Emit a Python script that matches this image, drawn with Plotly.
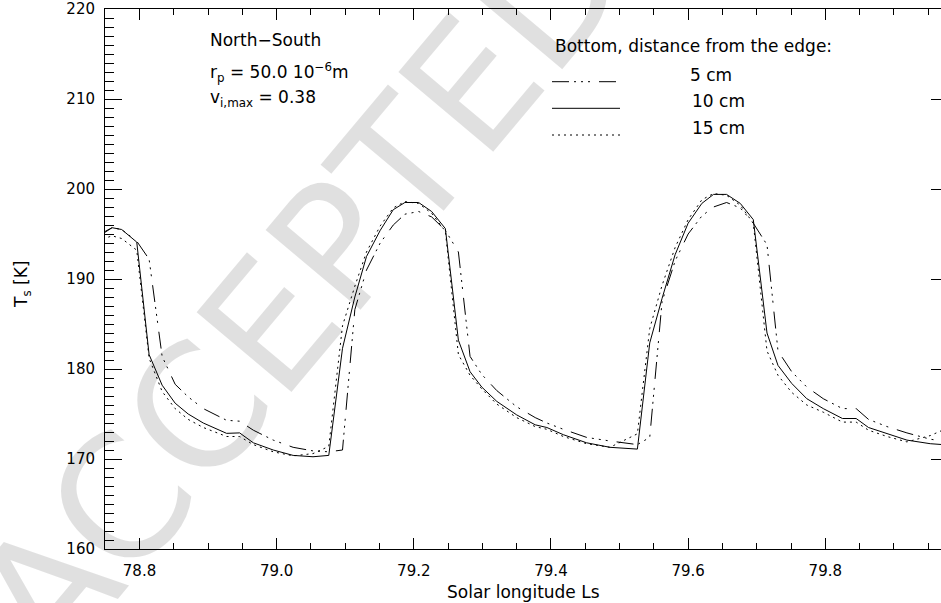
import plotly.graph_objects as go

# Solar longitude grid (model output times)
ls = [78.738, 78.760, 78.774, 78.796, 78.814, 78.833, 78.852, 78.871, 78.893, 78.927,
      78.946, 78.966, 78.995, 79.024, 79.053, 79.076, 79.096, 79.114, 79.131, 79.151,
      79.170, 79.187, 79.207, 79.226, 79.246, 79.265, 79.282, 79.299, 79.321, 79.350,
      79.377, 79.394, 79.418, 79.452, 79.486, 79.526, 79.544, 79.562, 79.581, 79.600,
      79.620, 79.637, 79.656, 79.676, 79.695, 79.715, 79.731, 79.751, 79.773, 79.797,
      79.825, 79.845, 79.863, 79.890, 79.919, 79.953, 79.989]

# Surface temperature (K), bottom distance from the edge: 5 cm
ts_5cm = [194.8, 195.7, 195.5, 194.2, 192.2, 181.4, 178.3, 176.9, 175.6, 174.3,
          174.2, 173.2, 172.1, 171.3, 170.9, 170.8, 171.0, 186.6, 191.0, 194.0,
          196.0, 197.2, 197.5, 196.9, 195.4, 193.0, 181.4, 179.4, 177.6, 175.8,
          174.6, 174.0, 173.3, 172.4, 172.0, 171.6, 172.4, 187.5, 192.0, 195.0,
          197.0, 198.0, 198.5, 197.9, 196.2, 193.8, 182.0, 179.7, 178.0, 176.7,
          175.6, 175.6, 174.4, 173.6, 172.9, 172.2, 171.8]
# 10 cm
ts_10cm = [194.6, 195.7, 195.5, 194.1, 181.6, 178.2, 176.2, 175.0, 174.0, 172.85,
           172.9, 171.8, 171.0, 170.4, 170.25, 170.4, 182.3, 188.0, 192.5, 195.4,
           197.7, 198.5, 198.5, 197.5, 195.6, 183.2, 179.7, 178.0, 176.4, 174.9,
           173.8, 173.5, 172.7, 171.8, 171.3, 171.1, 182.9, 187.85, 192.7, 196.2,
           198.4, 199.4, 199.4, 198.4, 196.6, 184.0, 180.4, 178.4, 176.7, 175.6,
           174.5, 174.5, 173.5, 172.8, 172.1, 171.7, 171.5]
# 15 cm
ts_15cm = [194.2, 194.8, 194.5, 193.2, 181.2, 177.5, 175.6, 174.4, 173.5, 172.5,
           172.5, 171.6, 170.8, 170.35, 170.6, 171.4, 184.8, 189.2, 193.0, 195.9,
           197.9, 198.6, 198.4, 197.3, 195.3, 181.6, 179.3, 177.8, 176.1, 174.6,
           173.6, 173.3, 172.5, 171.7, 171.3, 172.8, 184.5, 189.3, 193.5, 196.6,
           198.8, 199.5, 199.3, 198.2, 196.2, 182.0, 179.3, 177.4, 176.0, 175.2,
           174.1, 174.1, 173.2, 172.5, 171.9, 172.6, 173.8]

legend_labels = ["5 cm", "10 cm", "15 cm"]

FONT = "DejaVu Sans"
DASHDOT3 = "17px,5px,2px,5px,2px,5px,2px,9px"
DOT = "2px,4px"

fig = go.Figure()
fig.add_trace(go.Scatter(x=ls, y=ts_5cm, mode="lines", name=legend_labels[0],
                         line=dict(color="black", width=1, dash=DASHDOT3)))
fig.add_trace(go.Scatter(x=ls, y=ts_10cm, mode="lines", name=legend_labels[1],
                         line=dict(color="black", width=1)))
fig.add_trace(go.Scatter(x=ls, y=ts_15cm, mode="lines", name=legend_labels[2],
                         line=dict(color="black", width=1, dash=DOT)))
# empty trace to activate the right-hand tick axis
fig.add_trace(go.Scatter(x=[], y=[], yaxis="y2", showlegend=False))

L, R, T, B = 105, 941, 9, 549
W, H = 941, 603


def px(xp):
    return (xp - L) / (R - L)


def py(yp):
    return (B - yp) / (B - T)


ann = []
txt = dict(color="black", family=FONT, size=17)
ann.append(dict(x=px(208), y=py(40), text="North\u2212South", xanchor="left", yanchor="middle", font=txt))
ann.append(dict(x=px(208), y=py(72), text="r<sub>p</sub> = 50.0 10<sup>\u22126</sup>m", xanchor="left", yanchor="middle", font=txt))
ann.append(dict(x=px(208), y=py(98), text="v<sub>i,max</sub> = 0.38", xanchor="left", yanchor="middle", font=txt))
ann.append(dict(x=px(553), y=py(46), text="Bottom, distance from the edge:", xanchor="left", yanchor="middle", font=txt))
leg_text_y = [75.5, 101.5, 128.3]
leg_text_x = [688, 690, 690]
for lab, tx, ty in zip(legend_labels, leg_text_x, leg_text_y):
    ann.append(dict(x=px(tx), y=py(ty), text=lab, xanchor="left", yanchor="middle", font=txt))
ann.append(dict(x=0.5, y=py(592), text="Solar longitude Ls", xanchor="center", yanchor="middle", font=txt))
ann.append(dict(x=px(22), y=py(285), text="T<sub>s</sub> [K]", textangle=-90, xanchor="center", yanchor="middle", font=txt))
# watermark
ann.append(dict(x=px(300), y=py(290), text="ACCEPTED", textangle=-50, xanchor="center", yanchor="middle",
                font=dict(family=FONT, size=170, color="rgba(0,0,0,0.12)")))
for a in ann:
    a.update(xref="paper", yref="paper", showarrow=False)

shapes = []
leg_line_y = [81.7, 108.3, 135.0]
leg_dash = [DASHDOT3, "solid", DOT]
for yy, d in zip(leg_line_y, leg_dash):
    shapes.append(dict(type="line", xref="paper", yref="paper", x0=px(552), x1=px(620),
                       y0=py(yy), y1=py(yy), line=dict(color="black", width=1, dash=d)))

fig.update_layout(
    width=W, height=H,
    margin=dict(l=L, r=W - R, t=T, b=H - B, pad=0),
    plot_bgcolor="white", paper_bgcolor="white",
    showlegend=False,
    font=dict(family=FONT, color="black"),
    annotations=ann, shapes=shapes,
    xaxis=dict(range=[78.7497, 79.9687], showline=True, linecolor="black", linewidth=1,
               mirror="ticks", ticks="inside", ticklen=11, tickwidth=1, tickcolor="black",
               tick0=78.8, dtick=0.2, tickformat=".1f", showgrid=False, zeroline=False,
               tickfont=dict(size=15, family=FONT, color="black"), ticklabelstandoff=8,
               minor=dict(dtick=0.05, ticks="inside", ticklen=6, tickcolor="black", showgrid=False),
               automargin=False),
    yaxis=dict(range=[160, 220], showline=True, linecolor="black", linewidth=1,
               ticks="inside", ticklen=17, tickwidth=1, tickcolor="black",
               dtick=10, showgrid=False, zeroline=False,
               tickfont=dict(size=15, family=FONT, color="black"), ticklabelstandoff=6,
               minor=dict(dtick=1, ticks="inside", ticklen=9, tickcolor="black", showgrid=False),
               automargin=False),
    yaxis2=dict(range=[160, 220], overlaying="y", side="right", ticks="inside", ticklen=10,
                tickcolor="black", dtick=10, showticklabels=False, showline=False,
                showgrid=False, zeroline=False, automargin=False),
)

fig.write_html("out.html")
